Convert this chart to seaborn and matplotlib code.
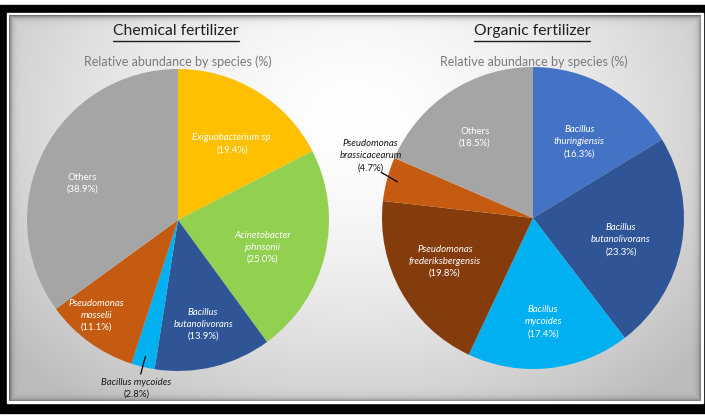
import numpy as np
import matplotlib
matplotlib.use("Agg")
import matplotlib.pyplot as plt
import seaborn as sns
from matplotlib.patches import Rectangle
from matplotlib.lines import Line2D

sns.set_style("white")
plt.rcParams['font.family'] = ['Lato', 'DejaVu Sans']

# ---------------- data ----------------
chem_species = ["Exiguobacterium sp.", "Acinetobacter\njohnsonii", "Bacillus\nbutanolivorans",
                "Bacillus mycoides", "Pseudomonas\nmosselii", "Others"]
chem_values = [19.4, 25.0, 13.9, 2.8, 11.1, 38.9]
chem_colors = ["#FFC000", "#92D050", "#2F5597", "#00B0F0", "#C55A11", "#A5A5A5"]

org_species = ["Bacillus\nthuringiensis", "Bacillus\nbutanolivorans", "Bacillus\nmycoides",
               "Pseudomonas\nfrederiksbergensis", "Pseudomonas\nbrassicacearum", "Others"]
org_values = [16.3, 23.3, 17.4, 19.8, 4.7, 18.5]
org_colors = ["#4472C4", "#2F5597", "#00B0F0", "#843C0C", "#C55A11", "#A5A5A5"]

titles = ["Chemical fertilizer", "Organic fertilizer"]
subtitle = "Relative abundance by species (%)"

# label layout (radius fraction, angle offset in degrees, inside?)
chem_r = [0.62, 0.59, 0.71, 1.15, 0.83, 0.68]
chem_dt = [-4, -4.4, 0, -0.5, -4.5, 6]
chem_inside = [True, True, True, False, True, True]
org_r = [0.59, 0.60, 0.69, 0.65, 1.15, 0.66]
org_dt = [-2, -3.4, -0.6, -3, -6, 2.4]
org_inside = [True, True, True, True, False, True]

W, H = 705, 418
fig = plt.figure(figsize=(W / 100, H / 100), dpi=100)
fig.patch.set_facecolor("white")

# ---------------- background panel ----------------
bg = fig.add_axes([0, 0, 1, 1])
bg.set_xlim(0, W)
bg.set_ylim(H, 0)
bg.axis("off")
bg.add_patch(Rectangle((0, 5), W, 408, color="black", zorder=0))
bg.add_patch(Rectangle((7, 13), W - 9, 390, color="white", zorder=1))
px0, px1, py0, py1 = 9, 701, 15, 401
yy, xx = np.mgrid[py0:py1, px0:px1]
d = np.sqrt(((xx - 355) / 430.0) ** 2 + ((yy - 120) / 340.0) ** 2)
v = 1.0 - 0.24 * d ** 1.6
v = np.clip(v, 0.74, 1.0)
edge = np.minimum.reduce([xx - px0, px1 - xx, yy - py0, py1 - yy]).astype(float)
v = v * (1 - 0.45 * np.exp(-edge / 2.5))
img = np.dstack([v, v, v])
bg.imshow(img, extent=[px0, px1, py1, py0], zorder=2, interpolation="bilinear", aspect="auto")


def pie_axes(cx, cy, R):
    ax = fig.add_axes([(cx - R) / W, (H - cy - R) / H, 2 * R / W, 2 * R / H])
    ax.set_xlim(-1, 1)
    ax.set_ylim(-1, 1)
    ax.axis("off")
    ax.set_facecolor("none")
    return ax


LH = 8.7  # line height in points


def label_block(ax, x, y, name, pct, color):
    lines = name.split("\n") + [pct]
    n = len(lines)
    for i, line in enumerate(lines):
        off = ((n - 1) / 2 - i) * LH
        italic = (i < n - 1) and line != "Others"
        ax.annotate(line, (x, y), xytext=(0, off), textcoords="offset points",
                    ha="center", va="center", color=color, fontsize=6.9,
                    style="italic" if italic else "normal", annotation_clip=False)


def draw_pie(ax, values, colors, labels, rs, dts, inside):
    wedges, _ = ax.pie(values, colors=colors, startangle=90, counterclock=False,
                       radius=1.0, wedgeprops=dict(linewidth=0))
    ax.set_xlim(-1, 1)
    ax.set_ylim(-1, 1)
    for w, val, lab, r, dt, ins in zip(wedges, values, labels, rs, dts, inside):
        mid = np.deg2rad((w.theta1 + w.theta2) / 2)
        th = mid + np.deg2rad(dt)
        pct = f"({val:.1f}%)"
        if ins:
            label_block(ax, r * np.cos(th), r * np.sin(th), lab, pct, "white")
        else:
            ax.plot([0.93 * np.cos(mid), 1.05 * np.cos(mid + np.deg2rad(dt * 0.3))],
                    [0.93 * np.sin(mid), 1.05 * np.sin(mid + np.deg2rad(dt * 0.3))],
                    color="black", lw=0.9, clip_on=False)
            label_block(ax, r * np.cos(th), r * np.sin(th), lab, pct, "#1a1a1a")


ax1 = pie_axes(178, 220, 151)
draw_pie(ax1, chem_values, chem_colors, chem_species, chem_r, chem_dt, chem_inside)
ax2 = pie_axes(533, 218, 151)
draw_pie(ax2, org_values, org_colors, org_species, org_r, org_dt, org_inside)

# ---------------- titles ----------------
title_objs = []
for cx, t in zip([176, 532], titles):
    title_objs.append(bg.text(cx, 31, t, ha="center", va="center", fontsize=11.3,
                              color="#1f1f1f", zorder=5))
    bg.text(cx + 2, 62, subtitle, ha="center", va="center", fontsize=9.0,
            color="#7a7a7a", zorder=5)

fig.canvas.draw()
renderer = fig.canvas.get_renderer()
for t in title_objs:
    bb = t.get_window_extent(renderer)
    bg.add_line(Line2D([bb.x0, bb.x1], [40.5, 40.5], color="#1f1f1f", lw=1.0, zorder=5))

fig.savefig("out.png", dpi=100)
